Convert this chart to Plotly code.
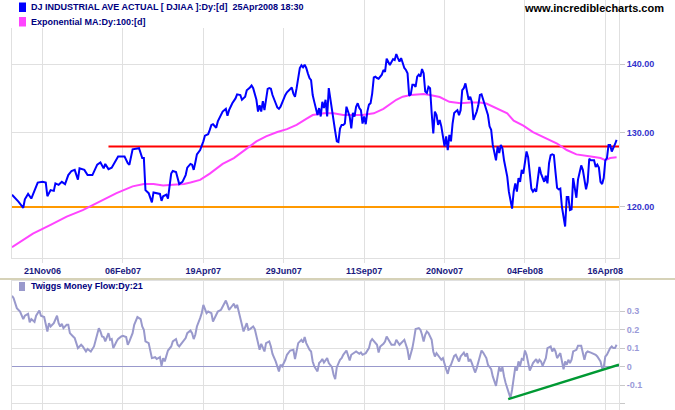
import plotly.graph_objects as go

# ---------------- data ----------------
tick_days = [19, 69, 119, 169, 219, 269, 319, 369]
tick_labels = ["21Nov06", "06Feb07", "19Apr07", "29Jun07", "11Sep07", "20Nov07", "04Feb08", "16Apr08"]
x_max = 377.5

djia_points = [
    (0, 121.6), (1, 121.4), (4, 120.7), (7, 119.9), (8, 121.0), (10, 121.7), (12, 121.1), (13, 121.6),
    (16, 123.2), (19, 123.3), (21, 123.2), (22, 121.4), (24, 122.2), (26, 122.1), (27, 123.1), (29, 122.9),
    (31, 123.3), (33, 123.0), (35, 124.2), (37, 124.75), (39, 124.9), (41, 123.6), (42, 125.1), (45, 124.9),
    (47, 124.2), (50, 124.2), (53, 125.6), (55, 125.9), (57, 125.1), (58, 125.7), (60, 125.0), (62, 125.2),
    (64, 125.9), (66, 126.7), (70, 126.7), (72, 125.8), (73, 125.6), (75, 127.7), (79, 127.85), (81, 126.5),
    (82, 126.5), (83, 122.2), (85, 121.8), (87, 120.6), (88, 121.9), (90, 121.8), (92, 121.7), (93, 120.8),
    (94, 121.4), (96, 121.6), (97, 121.1), (99, 124.4), (100, 124.75), (102, 124.6), (104, 123.0), (106, 123.3),
    (108, 124.2), (109, 125.2), (111, 125.7), (112, 125.6), (113, 124.9), (114, 125.9), (115, 127.0), (117, 127.6),
    (118, 128.1), (119, 128.8), (120, 129.6), (122, 129.8), (123, 130.4), (124, 131.1), (125, 131.2), (127, 130.7),
    (128, 131.6), (130, 132.5), (131, 133.0), (133, 133.4), (134, 132.4), (135, 133.2), (136, 133.7), (137, 134.2),
    (139, 134.9), (140, 135.5), (142, 135.4), (143, 134.7), (145, 135.15), (146, 136.1), (148, 136.5), (149, 136.8),
    (150, 136.4), (152, 134.7), (153, 133.0), (154, 133.9), (155, 133.0), (156, 134.5), (157, 133.2), (158, 135.1),
    (159, 136.3), (160, 136.4), (161, 136.3), (162, 135.4), (163, 134.9), (164, 134.2), (165, 133.6), (166, 133.4),
    (167, 133.7), (168, 134.3), (170, 135.4), (171, 135.8), (173, 136.3), (174, 136.5), (175, 135.6), (176, 135.15),
    (177, 136.4), (178, 138.1), (179, 139.4), (180, 139.8), (181, 139.5), (182, 139.9), (183, 139.4), (184, 138.6),
    (185, 137.9), (186, 137.6), (187, 135.4), (188, 134.4), (189, 133.2), (190, 132.5), (191, 133.5), (192, 132.3),
    (193, 134.4), (194, 133.5), (195, 134.7), (196, 132.3), (197, 136.4), (198, 134.7), (199, 132.8), (200, 131.1),
    (201, 130.2), (202, 128.8), (203, 128.7), (204, 130.6), (205, 131.1), (206, 131.1), (207, 131.3), (208, 133.7),
    (209, 133.0), (210, 132.3), (211, 130.6), (212, 132.8), (213, 132.3), (214, 133.7), (215, 134.2), (216, 133.5),
    (217, 133.2), (218, 131.3), (219, 132.3), (220, 131.2), (221, 133.0), (222, 134.0), (223, 134.2), (224, 135.6),
    (225, 138.0), (226, 138.1), (227, 137.9), (228, 137.8), (230, 138.4), (231, 139.1), (232, 138.8), (233, 140.8),
    (235, 139.85), (236, 140.35), (237, 140.75), (238, 140.6), (239, 141.5), (240, 140.9), (241, 140.35), (242, 140.9),
    (243, 140.1), (244, 139.4), (245, 139.1), (246, 138.6), (247, 135.3), (248, 135.5), (249, 136.9), (250, 136.9),
    (251, 136.6), (252, 138.1), (253, 138.4), (254, 138.1), (255, 139.25), (256, 138.6), (257, 135.9), (258, 135.7),
    (259, 136.6), (260, 136.4), (261, 132.8), (262, 129.9), (263, 133.0), (264, 132.5), (265, 131.1), (266, 131.8),
    (267, 130.9), (268, 129.7), (269, 128.1), (270, 129.5), (271, 127.6), (272, 129.7), (273, 128.8), (274, 131.3),
    (275, 132.8), (276, 133.0), (277, 133.2), (278, 132.5), (279, 133.2), (280, 136.1), (281, 136.4), (282, 137.1),
    (283, 135.9), (284, 134.7), (285, 135.15), (286, 134.4), (287, 131.8), (288, 132.3), (289, 133.0), (290, 133.9),
    (291, 135.4), (292, 135.5), (293, 134.7), (295, 133.5), (296, 132.5), (297, 130.9), (298, 130.4), (299, 128.3),
    (300, 127.4), (301, 126.2), (302, 128.1), (303, 127.2), (304, 128.3), (305, 127.85), (306, 126.2), (307, 124.9),
    (308, 124.0), (309, 122.0), (310, 121.1), (311, 119.8), (312, 122.0), (313, 123.1), (314, 122.0), (315, 123.8),
    (316, 123.3), (317, 124.9), (318, 124.4), (319, 125.8), (320, 127.4), (321, 126.6), (322, 124.4), (323, 122.4),
    (324, 122.0), (325, 122.3), (326, 122.0), (327, 123.8), (328, 125.3), (329, 124.4), (330, 123.8), (331, 123.3),
    (332, 124.1), (333, 123.1), (334, 125.8), (335, 126.9), (336, 127.0), (337, 126.9), (338, 124.6), (339, 122.5),
    (340, 122.3), (341, 122.4), (342, 120.0), (343, 118.75), (344, 117.5), (345, 121.3), (346, 121.3), (347, 119.6),
    (348, 119.7), (349, 123.8), (350, 122.7), (351, 121.2), (352, 123.6), (353, 124.7), (354, 125.5), (355, 124.9),
    (356, 123.8), (357, 122.3), (358, 123.3), (359, 126.4), (360, 126.2), (361, 126.2), (362, 126.2), (363, 125.3),
    (364, 125.6), (365, 125.2), (366, 123.3), (367, 123.0), (368, 123.8), (369, 126.2), (370, 126.5), (371, 128.3),
    (372, 128.3), (373, 127.4), (374, 127.85), (375, 128.4), (376, 129.0),
]
djia_days = [p[0] for p in djia_points]
djia_vals = [p[1] for p in djia_points]

ema_points = [
    (0, 114.9), (13, 116.6), (24, 117.7), (34, 118.75), (44, 119.6), (55, 120.7), (65, 121.8), (75, 122.7),
    (82, 123.0), (88, 123.0), (94, 122.8), (100, 122.9), (107, 123.0), (111, 123.2), (117, 123.55), (123, 124.4),
    (131, 125.7), (138, 126.5), (144, 127.5), (148, 128.1), (152, 128.8), (158, 129.5), (165, 130.1), (171, 130.5),
    (177, 131.1), (183, 131.95), (187, 132.5), (194, 132.75), (200, 132.75), (206, 132.5), (212, 132.5), (218, 132.5),
    (225, 132.75), (231, 133.4), (239, 134.7), (243, 135.15), (248, 135.4), (256, 135.55), (260, 135.4), (266, 135.1),
    (272, 134.4), (279, 134.2), (285, 134.3), (291, 134.3), (295, 134.15), (301, 133.5), (308, 132.75), (312, 131.7),
    (318, 131.0), (324, 130.1), (330, 129.5), (339, 128.5), (345, 127.6), (351, 127.0), (360, 126.7), (366, 126.5),
    (369, 126.2), (372, 126.5), (376, 126.6),
]
ema_days = [p[0] for p in ema_points]
ema_vals = [p[1] for p in ema_points]

tmf_points = [
    (0, 0.384), (1, 0.371), (3, 0.317), (5, 0.299), (7, 0.258), (8, 0.276), (10, 0.286), (11, 0.240), (12, 0.258),
    (14, 0.243), (15, 0.276), (17, 0.304), (18, 0.276), (20, 0.269), (22, 0.191), (23, 0.236), (24, 0.218),
    (26, 0.236), (28, 0.276), (29, 0.236), (30, 0.218), (31, 0.232), (32, 0.209), (34, 0.227), (35, 0.227),
    (36, 0.182), (38, 0.164), (39, 0.155), (41, 0.101), (43, 0.119), (44, 0.110), (46, 0.083), (47, 0.096),
    (49, 0.083), (51, 0.110), (52, 0.146), (54, 0.209), (55, 0.191), (56, 0.164), (57, 0.161), (58, 0.137),
    (60, 0.182), (61, 0.146), (62, 0.150), (63, 0.101), (65, 0.137), (66, 0.150), (68, 0.164), (69, 0.168),
    (71, 0.161), (72, 0.119), (73, 0.137), (75, 0.182), (76, 0.227), (78, 0.269), (80, 0.258), (81, 0.218),
    (82, 0.200), (83, 0.137), (85, 0.128), (86, 0.077), (87, 0.047), (89, 0.052), (90, 0.042), (92, 0.052),
    (93, 0.005), (94, 0.047), (95, 0.029), (96, 0.059), (97, 0.088), (99, 0.110), (100, 0.137), (102, 0.150),
    (103, 0.119), (104, 0.110), (106, 0.131), (108, 0.155), (109, 0.182), (111, 0.196), (112, 0.182), (113, 0.150),
    (114, 0.173), (115, 0.218), (117, 0.263), (118, 0.290), (119, 0.335), (121, 0.290), (122, 0.299), (124, 0.290),
    (125, 0.245), (127, 0.281), (128, 0.299), (130, 0.308), (131, 0.326), (132, 0.348), (133, 0.358), (134, 0.335),
    (135, 0.308), (137, 0.330), (138, 0.341), (139, 0.317), (140, 0.335), (141, 0.299), (143, 0.236), (144, 0.191),
    (146, 0.236), (147, 0.200), (148, 0.204), (150, 0.218), (151, 0.204), (153, 0.137), (154, 0.092), (155, 0.124),
    (157, 0.083), (158, 0.128), (160, 0.137), (161, 0.110), (162, 0.070), (164, 0.029), (166, -0.025), (167, 0.011),
    (168, 0.002), (170, 0.038), (171, 0.065), (173, 0.088), (175, 0.092), (176, 0.042), (177, 0.083), (178, 0.128),
    (180, 0.146), (181, 0.131), (182, 0.161), (183, 0.128), (185, 0.092), (186, 0.083), (187, 0.029), (188, 0.002),
    (190, -0.025), (191, 0.020), (192, 0.029), (193, 0.042), (194, 0.023), (196, 0.047), (197, 0.020), (199, -0.002),
    (200, -0.043), (201, -0.067), (202, -0.002), (204, 0.038), (205, 0.047), (206, 0.065), (208, 0.088), (209, 0.065),
    (210, 0.034), (211, 0.065), (213, 0.077), (214, 0.083), (216, 0.070), (217, 0.077), (218, 0.065), (220, 0.074),
    (222, 0.101), (223, 0.137), (224, 0.150), (226, 0.128), (227, 0.119), (228, 0.077), (229, 0.110), (231, 0.124),
    (232, 0.137), (233, 0.164), (235, 0.131), (236, 0.119), (238, 0.119), (239, 0.146), (241, 0.119), (242, 0.128),
    (244, 0.146), (245, 0.119), (246, 0.092), (247, 0.038), (249, 0.101), (250, 0.150), (251, 0.204), (253, 0.209),
    (254, 0.200), (255, 0.173), (256, 0.137), (257, 0.173), (258, 0.191), (259, 0.182), (261, 0.146), (262, 0.083),
    (263, 0.056), (264, 0.074), (266, 0.047), (267, 0.038), (268, 0.047), (269, 0.011), (270, -0.013), (271, -0.038),
    (272, -0.002), (273, 0.011), (275, 0.059), (276, 0.065), (278, 0.029), (279, 0.056), (281, 0.077), (282, 0.056),
    (283, 0.074), (284, 0.029), (285, 0.042), (286, 0.020), (287, -0.002), (288, -0.031), (289, -0.007), (291, 0.065),
    (292, 0.088), (293, 0.077), (295, 0.047), (296, 0.011), (298, -0.013), (299, -0.052), (300, -0.079), (301, -0.103),
    (302, -0.052), (303, -0.002), (304, -0.025), (305, -0.002), (306, -0.052), (307, -0.088), (309, -0.142),
    (310, -0.169), (311, -0.124), (312, -0.070), (313, -0.002), (314, -0.020), (315, 0.029), (316, 0.005),
    (317, 0.042), (318, 0.038), (319, 0.088), (320, 0.065), (321, 0.020), (322, -0.020), (323, -0.002), (324, 0.020),
    (326, 0.042), (327, 0.020), (328, 0.038), (329, 0.029), (330, 0.005), (332, 0.047), (333, 0.101), (335, 0.110),
    (336, 0.083), (337, 0.101), (338, 0.083), (339, 0.047), (341, 0.074), (342, 0.029), (343, -0.013), (344, 0.029),
    (345, 0.011), (346, 0.038), (347, 0.020), (348, 0.038), (349, 0.083), (351, 0.092), (352, 0.114), (354, 0.114),
    (355, 0.083), (356, 0.038), (357, 0.074), (358, 0.083), (360, 0.077), (361, 0.074), (363, 0.065), (364, 0.056),
    (366, 0.029), (367, -0.007), (368, -0.002), (369, 0.056), (370, 0.065), (372, 0.101), (373, 0.110), (374, 0.101),
    (375, 0.101), (376, 0.119),
]
tmf_days = [p[0] for p in tmf_points]
tmf_vals = [p[1] for p in tmf_points]

resistance_level = 128.1
resistance_start_day = 60
support_level = 120.0
trend_days = [308.6, 377.5]
trend_vals = [-0.175, 0.012]

price_ticks = [120, 130, 140]
price_tick_text = ["120.00", "130.00", "140.00"]
tmf_ticks = [-0.2, -0.1, 0, 0.1, 0.2, 0.3]
tmf_tick_text = ["", "-0.1", "0", "0.1", "0.2", "0.3"]

title_main = "DJ INDUSTRIAL AVE ACTUAL [ DJIAA ]:Dy:[d]\u00a0 25Apr2008 18:30"
title_ema = "Exponential MA:Dy:100:[d]"
title_tmf = "Twiggs Money Flow:Dy:21"
site = "www.incrediblecharts.com"

# ---------------- figure ----------------
W, H = 675, 410
ML, MR = 12, 56
PW = W - ML - MR


def px(xp):
    return (xp - ML) / PW


def py(yp):
    return (H - yp) / H


BLUE = "#0000ff"
MAG = "#ff44ff"
LAV = "#9999cc"
GRID = "#e0e0e0"
FONT = "Liberation Sans, Arial, sans-serif"

fig = go.Figure()
fig.add_trace(go.Scatter(x=tmf_days, y=tmf_vals, mode="lines", xaxis="x2", yaxis="y2",
                         line=dict(color=LAV, width=2), hoverinfo="skip"))
fig.add_trace(go.Scatter(x=trend_days, y=trend_vals, mode="lines", xaxis="x2", yaxis="y2",
                         line=dict(color="#009933", width=2.5), hoverinfo="skip"))
fig.add_trace(go.Scatter(x=[0, x_max], y=[support_level, support_level], mode="lines",
                         line=dict(color="#ff9900", width=2), hoverinfo="skip"))
fig.add_trace(go.Scatter(x=[resistance_start_day, x_max], y=[resistance_level, resistance_level], mode="lines",
                         line=dict(color="#ff0000", width=2), hoverinfo="skip"))
fig.add_trace(go.Scatter(x=ema_days, y=ema_vals, mode="lines",
                         line=dict(color=MAG, width=2), hoverinfo="skip"))
fig.add_trace(go.Scatter(x=djia_days, y=djia_vals, mode="lines",
                         line=dict(color=BLUE, width=2), hoverinfo="skip"))

top_dom = [1 - 258 / H, 1]
low_dom = [0, (H - 281) / H]

axis_common = dict(showgrid=True, gridcolor=GRID, gridwidth=1, zeroline=False,
                   showline=True, linecolor=GRID, linewidth=1, mirror=True)

fig.update_layout(
    width=W, height=H,
    margin=dict(l=ML, r=MR, t=0, b=0, pad=0),
    paper_bgcolor="white", plot_bgcolor="white",
    showlegend=False,
    font=dict(family=FONT, size=9),
    xaxis=dict(domain=[0, 1], range=[0, x_max], anchor="y",
               tickmode="array", tickvals=tick_days, ticktext=tick_labels,
               ticks="outside", ticklen=4, tickcolor=GRID,
               tickfont=dict(family=FONT, size=9, color="#1a1a80", weight="bold"),
               **axis_common),
    yaxis=dict(domain=top_dom, type="log", range=[2.05530, 2.17609], side="right", anchor="x",
               tickmode="array", tickvals=price_ticks, ticktext=price_tick_text,
               ticks="outside", ticklen=5, tickcolor="#c8c8c8",
               tickfont=dict(family=FONT, size=9, color="#3333cc", weight="bold"),
               **axis_common),
    xaxis2=dict(domain=[0, 1], range=[0, x_max], anchor="y2",
                tickmode="array", tickvals=tick_days, showticklabels=False, ticks="",
                **axis_common),
    yaxis2=dict(domain=low_dom, range=[-0.2335, 0.4638], side="right", anchor="x2",
                tickmode="array", tickvals=tmf_ticks, ticktext=tmf_tick_text,
                ticks="outside", ticklen=5, tickcolor="#c8c8c8",
                tickfont=dict(family=FONT, size=9, color="#9a9ad8", weight="bold"),
                showgrid=True, gridcolor=GRID, zeroline=True, zerolinecolor=LAV, zerolinewidth=1,
                showline=True, linecolor=GRID, linewidth=1, mirror=True),
)

shapes = [
    # legend background box
    dict(type="rect", xref="paper", yref="paper", x0=px(0), x1=px(345), y0=py(28), y1=py(0),
         fillcolor="white", line=dict(width=0), layer="above"),
    # legend swatches
    dict(type="rect", xref="paper", yref="paper", x0=px(19), x1=px(26), y0=py(12), y1=py(2.5),
         fillcolor=BLUE, line=dict(width=0), layer="above"),
    dict(type="rect", xref="paper", yref="paper", x0=px(19), x1=px(26), y0=py(26.5), y1=py(17),
         fillcolor=MAG, line=dict(width=0), layer="above"),
    dict(type="rect", xref="paper", yref="paper", x0=px(19), x1=px(25), y0=py(291), y1=py(282),
         fillcolor=LAV, line=dict(width=0), layer="above"),
    # panel separator
    dict(type="line", xref="paper", yref="paper", x0=px(0), x1=px(675), y0=py(279), y1=py(279),
         line=dict(color="#d6d2b8", width=2), layer="above"),
]
fig.update_layout(shapes=shapes)

ann = [
    dict(text=title_main, x=px(29), y=py(7), xanchor="left", yanchor="middle",
         font=dict(family=FONT, size=9, color="#000080", weight="bold")),
    dict(text=title_ema, x=px(29), y=py(21.7), xanchor="left", yanchor="middle",
         font=dict(family=FONT, size=9, color="#000080", weight="bold")),
    dict(text=site, x=px(666), y=py(7.5), xanchor="right", yanchor="middle",
         font=dict(family=FONT, size=11, color="#000000", weight="bold")),
    dict(text=title_tmf, x=px(29), y=py(286), xanchor="left", yanchor="middle",
         font=dict(family=FONT, size=9, color="#000080", weight="bold")),
]
for a in ann:
    a.update(xref="paper", yref="paper", showarrow=False)
fig.update_layout(annotations=ann)

fig.write_html("out.html")
